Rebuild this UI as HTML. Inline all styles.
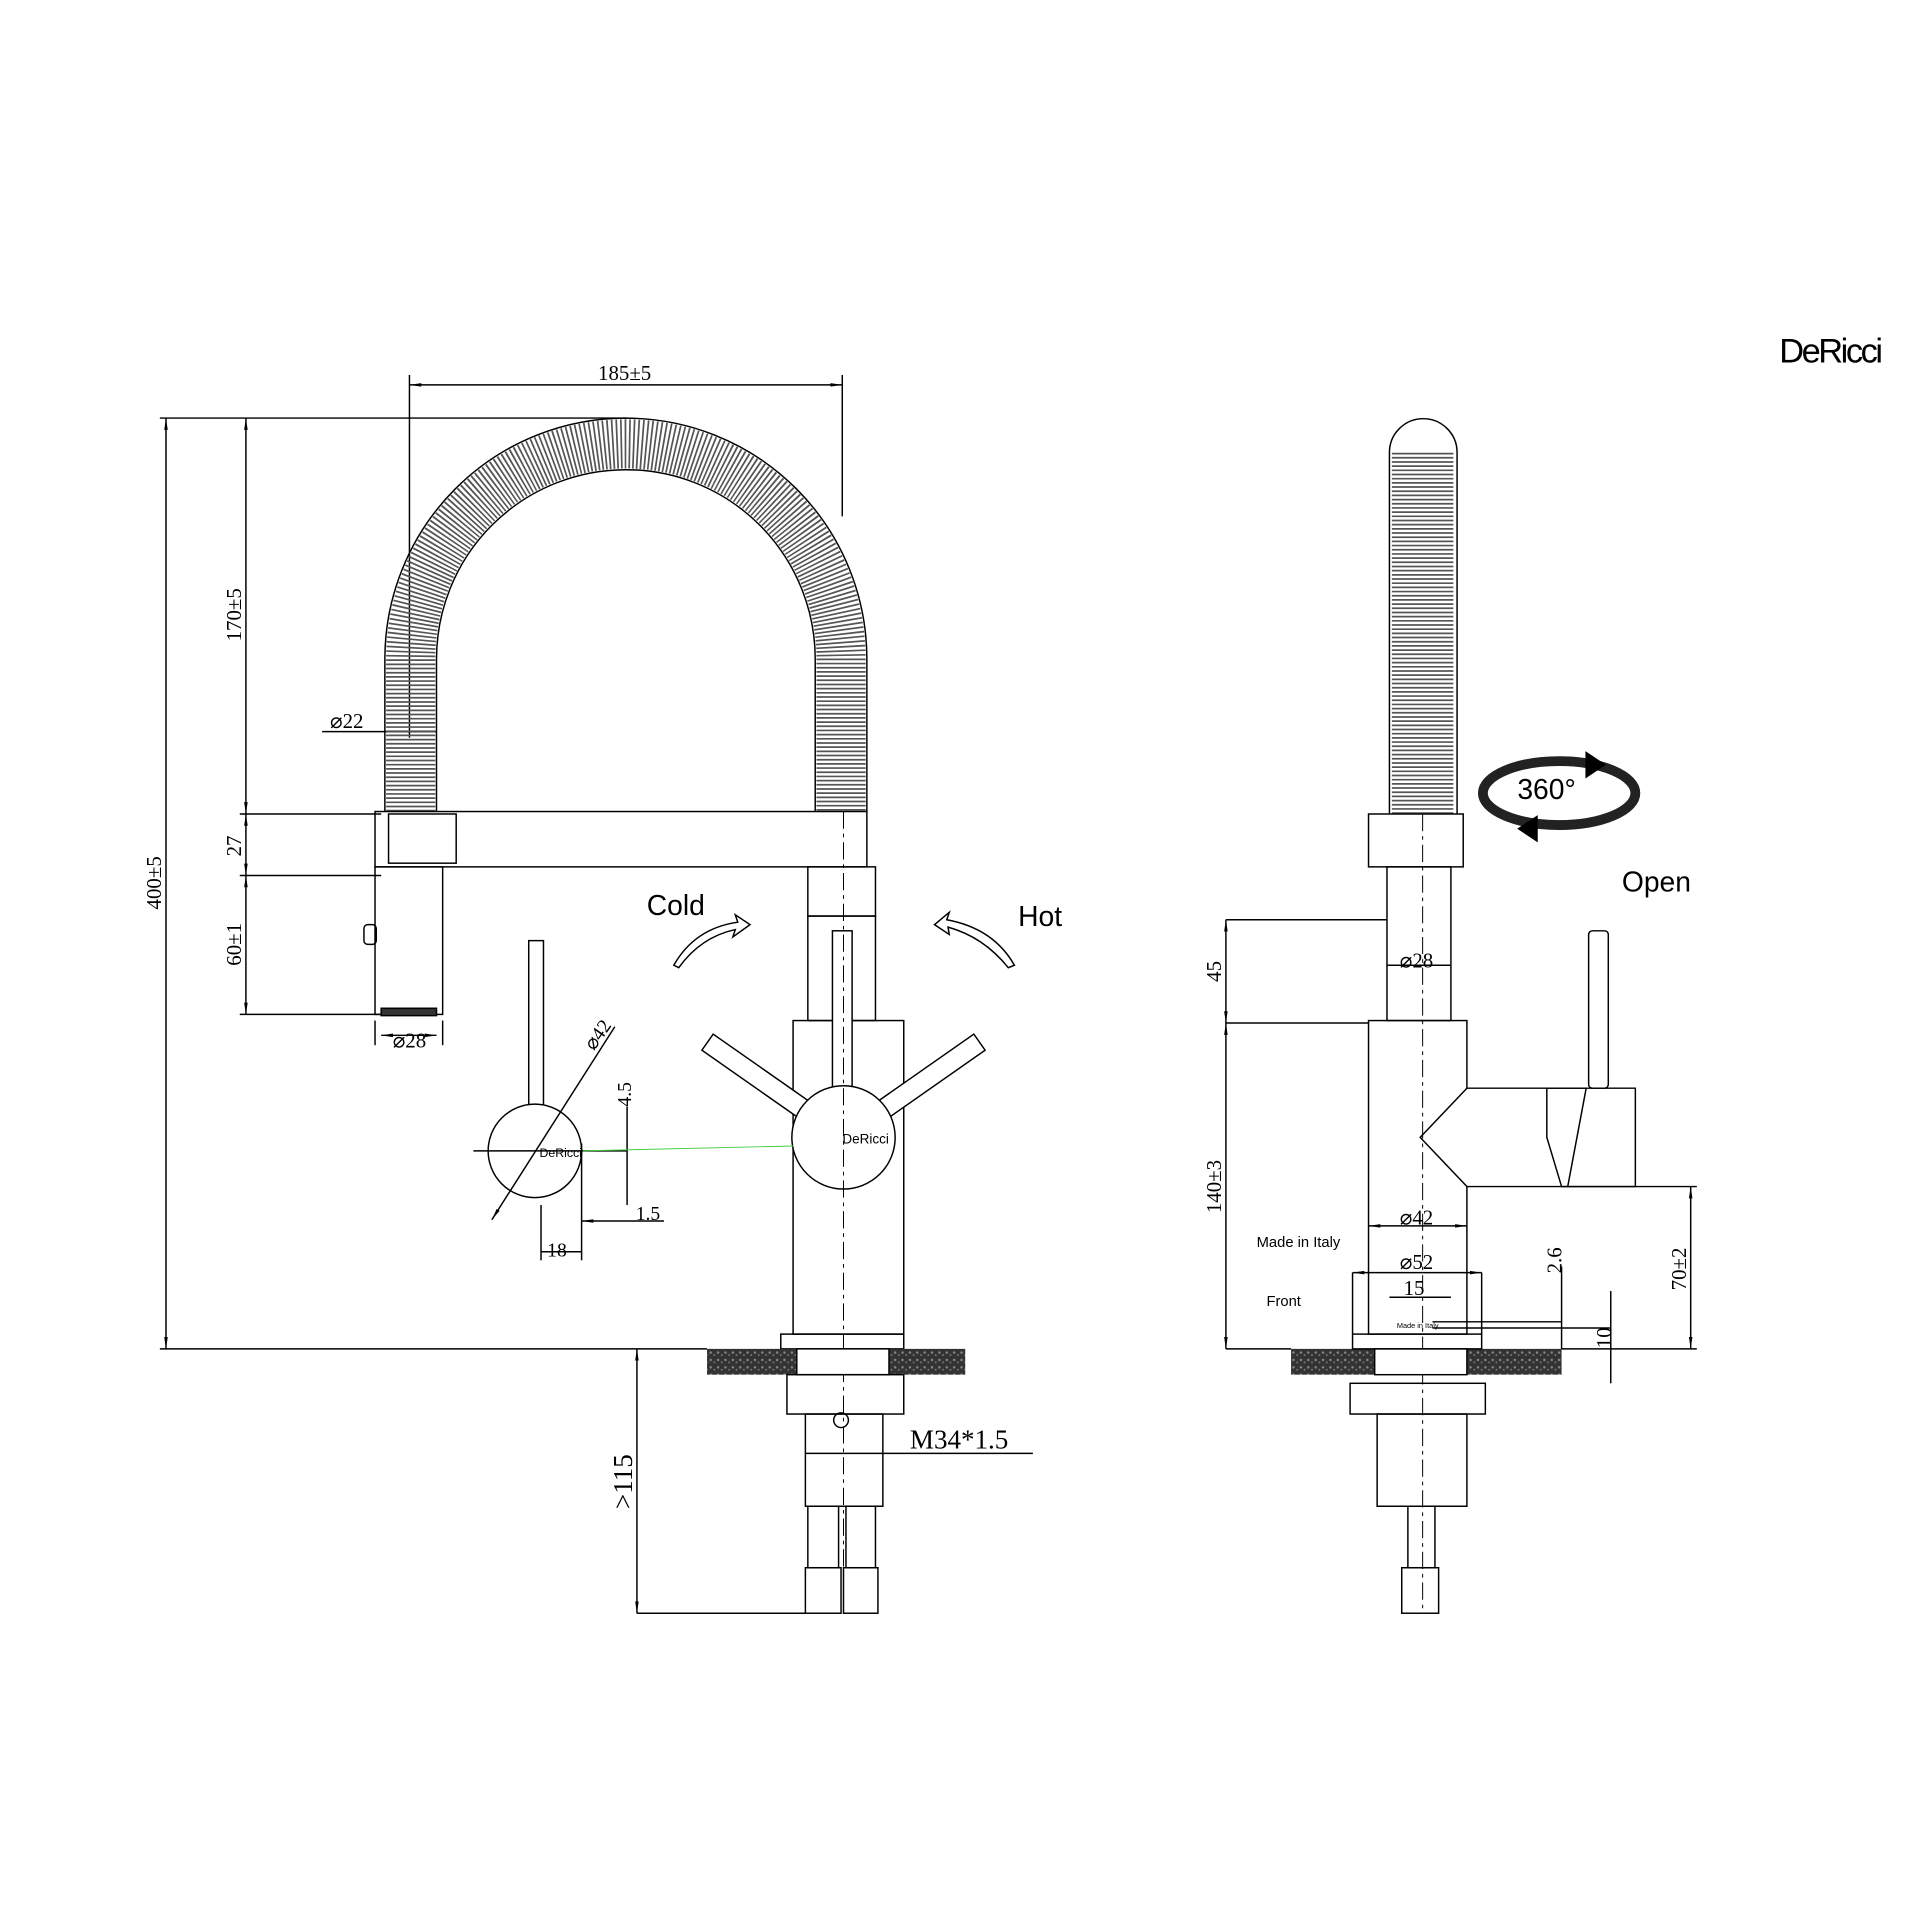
<!DOCTYPE html>
<html><head><style>html,body{margin:0;padding:0;background:#fff}svg{display:block}</style></head><body>
<svg width="1928" height="1928" viewBox="0 0 1568 1568" xmlns="http://www.w3.org/2000/svg" font-family="Liberation Serif, serif">
<defs>
<marker id="a" viewBox="0 0 10 10" refX="10" refY="5" markerWidth="8" markerHeight="8" orient="auto-start-reverse"><path d="M0,3.5 L10,5 L0,6.5z" fill="#000"/></marker>
<pattern id="h" width="6" height="6" patternUnits="userSpaceOnUse"><rect width="6" height="6" fill="#333"/><circle cx="2" cy="2" r="1" fill="#888"/><circle cx="5" cy="4" r="0.8" fill="#777"/></pattern>
</defs>
<g stroke="#000" fill="none" stroke-width="1.2">
<!-- logo -->
<text x="1447" y="295" font-family="Liberation Sans, sans-serif" font-size="28" fill="#000" stroke="none" letter-spacing="-2">DeRicci</text>
<!-- top dim -->
<line x1="333" y1="313" x2="685" y2="313" marker-start="url(#a)" marker-end="url(#a)"/>
<line x1="333" y1="305" x2="333" y2="600"/><line x1="685" y1="305" x2="685" y2="420"/>
<text x="508" y="309" font-size="17" text-anchor="middle" fill="#000" stroke="none">185±5</text>
<!-- left dims -->
<line x1="135" y1="340" x2="135" y2="1097" marker-start="url(#a)" marker-end="url(#a)"/>
<line x1="200" y1="340" x2="200" y2="662" marker-start="url(#a)" marker-end="url(#a)"/>
<line x1="200" y1="662" x2="200" y2="712" marker-start="url(#a)" marker-end="url(#a)"/>
<line x1="200" y1="712" x2="200" y2="825" marker-start="url(#a)" marker-end="url(#a)"/>
<line x1="130" y1="340" x2="510" y2="340"/>
<line x1="195" y1="662" x2="310" y2="662"/>
<line x1="195" y1="712" x2="310" y2="712"/>
<line x1="195" y1="825" x2="310" y2="825"/>
<line x1="130" y1="1097" x2="575" y2="1097"/>
<g fill="#000" stroke="none" font-size="17">
<text transform="translate(131,718) rotate(-90)" text-anchor="middle">400±5</text>
<text transform="translate(196,500) rotate(-90)" text-anchor="middle">170±5</text>
<text transform="translate(196,688) rotate(-90)" text-anchor="middle">27</text>
<text transform="translate(196,768) rotate(-90)" text-anchor="middle">60±1</text>
<text x="282" y="592" text-anchor="middle">⌀22</text>
<text x="333" y="852" text-anchor="middle">⌀28</text>
</g>
<line x1="262" y1="595" x2="355" y2="595"/>
<line x1="305" y1="830" x2="305" y2="850"/><line x1="360" y1="830" x2="360" y2="850"/>
<line x1="310" y1="842" x2="355" y2="842" marker-start="url(#a)" marker-end="url(#a)"/>
<!-- hose -->
<path d="M334,660 L334,536 A175,175 0 0 1 684,536 L684,660" stroke="#555" stroke-width="40" stroke-dasharray="1.4 2"/>
<path d="M313,660 L313,536 A196,196 0 0 1 705,536 L705,660"/>
<path d="M355,660 L355,536 A154,154 0 0 1 663,536 L663,660"/>
<!-- spout bar -->
<rect x="305" y="660" width="400" height="45"/>
<rect x="316" y="662" width="55" height="40"/>
<rect x="305" y="705" width="55" height="120"/>
<rect x="310" y="820" width="45" height="6" fill="#333"/>
<rect x="296" y="752" width="10" height="16" rx="3"/>
<!-- body -->
<rect x="657" y="705" width="55" height="40"/>
<rect x="657" y="745" width="55" height="85"/>
<rect x="645" y="830" width="90" height="255"/>
<rect x="635" y="1085" width="100" height="12"/>
<rect x="677" y="757" width="16" height="168" fill="#fff"/>
<g transform="rotate(-55 686 925)"><rect x="678" y="790" width="16" height="135" fill="#fff"/></g>
<g transform="rotate(55 686 925)"><rect x="678" y="790" width="16" height="135" fill="#fff"/></g>
<circle cx="686" cy="925" r="42" fill="#fff"/>
<text x="704" y="930" font-family="Liberation Sans,sans-serif" font-size="11" text-anchor="middle" fill="#000" stroke="none">DeRicci</text>
<line x1="686" y1="660" x2="686" y2="1300" stroke-dasharray="14 4 3 4" stroke-width="0.8"/>
<!-- counter -->
<rect x="575" y="1097" width="210" height="21" fill="url(#h)" stroke="none"/>
<rect x="648" y="1097" width="75" height="21" fill="#fff"/>
<rect x="640" y="1118" width="95" height="32"/>
<rect x="655" y="1150" width="63" height="75"/>
<rect x="657" y="1225" width="25" height="50"/><rect x="688" y="1225" width="24" height="50"/>
<rect x="655" y="1275" width="29" height="37"/><rect x="686" y="1275" width="28" height="37"/>
<circle cx="684" cy="1155" r="6"/>
<line x1="518" y1="1097" x2="518" y2="1312" marker-start="url(#a)" marker-end="url(#a)"/>
<line x1="518" y1="1312" x2="655" y2="1312"/>
<text transform="translate(514,1205) rotate(-90)" text-anchor="middle" font-size="22" fill="#000" stroke="none">&gt;115</text>
<line x1="655" y1="1182" x2="840" y2="1182"/>
<text x="740" y="1178" font-size="22" fill="#000" stroke="none">M34*1.5</text>
<!-- Cold/Hot -->
<g font-family="Liberation Sans,sans-serif" font-size="23" fill="#000" stroke="none">
<text x="526" y="744">Cold</text><text x="828" y="753">Hot</text>
<text x="1319" y="725">Open</text>
<text x="1234" y="650">360°</text>
</g>
<path d="M548,785 Q565,755 600,750 L598,744 L610,752 L596,762 L598,756 Q570,762 552,787z"/>
<path d="M825,785 Q808,755 770,748 L772,742 L760,752 L772,760 L771,754 Q800,762 820,787z"/>
<!-- small side detail -->
<rect x="430" y="765" width="12" height="135"/>
<circle cx="435" cy="936" r="38" fill="#fff"/>
<text x="456" y="941" font-family="Liberation Sans,sans-serif" font-size="10" text-anchor="middle" fill="#000" stroke="none">DeRicci</text>
<line x1="385" y1="936" x2="510" y2="936"/>
<line x1="400" y1="992" x2="500" y2="835" marker-start="url(#a)"/>
<text transform="translate(483,855) rotate(-55)" font-size="16" fill="#000" stroke="none">⌀42</text>
<line x1="473" y1="930" x2="473" y2="1025"/><line x1="440" y1="980" x2="440" y2="1025"/>
<line x1="440" y1="1018" x2="473" y2="1018"/>
<line x1="473" y1="993" x2="540" y2="993" marker-start="url(#a)"/>
<line x1="510" y1="900" x2="510" y2="980"/>
<line x1="474" y1="936" x2="645" y2="932" stroke="#4c4" stroke-width="0.8"/>
<g fill="#000" stroke="none" font-size="16">
<text x="517" y="992" >1.5</text><text x="445" y="1022">18</text>
<text transform="translate(513,890) rotate(-90)" text-anchor="middle">4.5</text>
</g>
<!-- right view -->
<path d="M1130,662 L1130,368 A27,27 0 0 1 1185,368 L1185,662" stroke="#555" stroke-width="0" />
<path d="M1157,662 L1157,368" stroke="#555" stroke-width="50" stroke-dasharray="1.4 2"/>
<path d="M1130,662 L1130,368 A27,27 0 0 1 1185,368 L1185,662" fill="none"/>
<rect x="1113" y="662" width="77" height="43" fill="#fff"/>
<rect x="1128" y="705" width="52" height="125"/>
<rect x="1113" y="830" width="80" height="255"/>
<path d="M1193,885 L1290,885 L1275,965 L1193,965 L1155,925 Z" fill="#fff"/>
<path d="M1258,885 L1330,885 L1330,965 L1270,965 L1258,925 Z"/>
<rect x="1292" y="757" width="16" height="128" rx="3"/>
<line x1="1157" y1="662" x2="1157" y2="1310" stroke-dasharray="14 4 3 4" stroke-width="0.8"/>
<rect x="1050" y="1097" width="220" height="21" fill="url(#h)" stroke="none"/>
<rect x="1118" y="1097" width="75" height="21" fill="#fff"/>
<rect x="1100" y="1085" width="105" height="12"/>
<rect x="1098" y="1125" width="110" height="25"/>
<rect x="1120" y="1150" width="73" height="75"/>
<rect x="1145" y="1225" width="22" height="50"/><rect x="1140" y="1275" width="30" height="37"/>
<!-- 360 arrow -->
<ellipse cx="1268" cy="645" rx="62" ry="26" stroke-width="8" stroke="#222"/>
<path d="M1290,612 L1305,622 L1290,632z" fill="#000"/>
<path d="M1250,664 L1235,674 L1250,684z" fill="#000"/>
<!-- right dims -->
<line x1="997" y1="748" x2="997" y2="832" marker-start="url(#a)" marker-end="url(#a)"/>
<line x1="997" y1="832" x2="997" y2="1097" marker-start="url(#a)" marker-end="url(#a)"/>
<line x1="997" y1="748" x2="1128" y2="748"/><line x1="997" y1="832" x2="1113" y2="832"/>
<line x1="997" y1="1097" x2="1050" y2="1097"/>
<line x1="1375" y1="965" x2="1375" y2="1097" marker-start="url(#a)" marker-end="url(#a)"/>
<line x1="1275" y1="965" x2="1380" y2="965"/><line x1="1270" y1="1097" x2="1380" y2="1097"/>
<line x1="1270" y1="1030" x2="1270" y2="1097"/>
<line x1="1310" y1="1050" x2="1310" y2="1125"/>
<line x1="1165" y1="1080" x2="1310" y2="1080"/><line x1="1165" y1="1075" x2="1270" y2="1075"/>
<line x1="1128" y1="785" x2="1180" y2="785"/>
<line x1="1113" y1="997" x2="1193" y2="997" marker-start="url(#a)" marker-end="url(#a)"/>
<line x1="1100" y1="1035" x2="1205" y2="1035" marker-start="url(#a)" marker-end="url(#a)"/>
<line x1="1100" y1="1035" x2="1100" y2="1085"/><line x1="1205" y1="1035" x2="1205" y2="1085"/>
<line x1="1130" y1="1055" x2="1180" y2="1055"/>
<g fill="#000" stroke="none" font-size="17">
<text transform="translate(993,790) rotate(-90)" text-anchor="middle">45</text>
<text transform="translate(993,965) rotate(-90)" text-anchor="middle">140±3</text>
<text transform="translate(1371,1032) rotate(-90)" text-anchor="middle">70±2</text>
<text transform="translate(1270,1025) rotate(-90)" text-anchor="middle">2.6</text>
<text transform="translate(1310,1088) rotate(-90)" text-anchor="middle">10</text>
<text x="1152" y="787" text-anchor="middle">⌀28</text>
<text x="1152" y="996" text-anchor="middle">⌀42</text>
<text x="1152" y="1032" text-anchor="middle">⌀52</text>
<text x="1150" y="1053" text-anchor="middle">15</text>
</g>
<g fill="#000" stroke="none" font-family="Liberation Sans,sans-serif" font-size="12">
<text x="1022" y="1014">Made in Italy</text>
<text x="1030" y="1062">Front</text>
<text x="1136" y="1080" font-size="6">Made in Italy</text>
</g>
</g>
</svg>
</body></html>
